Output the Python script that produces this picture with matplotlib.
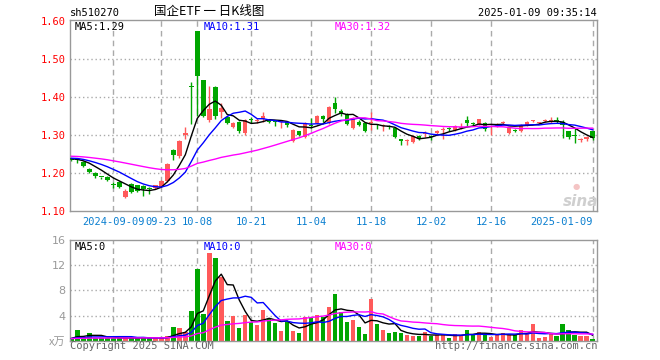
import numpy as np
import pandas as pd
import matplotlib
matplotlib.use('Agg')
import matplotlib.pyplot as plt

# ---- data (510270 daily candles, 2024-08-29 .. 2025-01-09) ----
holidays = ['2024-09-16', '2024-09-17', '2024-10-01', '2024-10-02', '2024-10-03',
            '2024-10-04', '2024-10-07', '2025-01-01']
dates = pd.bdate_range('2024-08-29', '2025-01-09')
dates = dates[~dates.isin(pd.to_datetime(holidays))]

open_ = [1.239, 1.236, 1.230, 1.212, 1.202, 1.190, 1.191, 1.170, 1.178, 1.138,
         1.172, 1.168, 1.167, 1.159, 1.161, 1.165, 1.181, 1.261, 1.245, 1.301,
         1.430, 1.574, 1.445, 1.340, 1.428, 1.362, 1.349, 1.321, 1.336, 1.305,
         1.341, 1.338, 1.342, 1.342, 1.335, 1.334, 1.336, 1.286, 1.310, 1.296,
         1.326, 1.332, 1.351, 1.332, 1.386, 1.365, 1.356, 1.318, 1.336, 1.332,
         1.332, 1.328, 1.325, 1.323, 1.318, 1.289, 1.284, 1.283, 1.299, 1.304,
         1.297, 1.305, 1.315, 1.317, 1.314, 1.318, 1.340, 1.331, 1.330, 1.332,
         1.322, 1.325, 1.333, 1.305, 1.313, 1.310, 1.327, 1.337, 1.332, 1.337,
         1.337, 1.339, 1.336, 1.310, 1.299, 1.288, 1.290, 1.310]
close = [1.235, 1.235, 1.220, 1.204, 1.193, 1.189, 1.183, 1.169, 1.165, 1.154,
         1.150, 1.153, 1.158, 1.158, 1.168, 1.180, 1.224, 1.248, 1.285, 1.307,
         1.428, 1.455, 1.350, 1.368, 1.350, 1.372, 1.333, 1.333, 1.310, 1.340,
         1.340, 1.340, 1.351, 1.335, 1.334, 1.335, 1.327, 1.314, 1.301, 1.332,
         1.325, 1.351, 1.342, 1.374, 1.369, 1.358, 1.329, 1.345, 1.327, 1.310,
         1.334, 1.327, 1.326, 1.322, 1.296, 1.285, 1.285, 1.299, 1.289, 1.305,
         1.296, 1.312, 1.316, 1.316, 1.324, 1.319, 1.333, 1.330, 1.342, 1.316,
         1.323, 1.330, 1.334, 1.321, 1.312, 1.327, 1.336, 1.338, 1.333, 1.338,
         1.338, 1.338, 1.327, 1.295, 1.298, 1.289, 1.296, 1.292]
high = [1.241, 1.240, 1.232, 1.213, 1.203, 1.191, 1.193, 1.178, 1.180, 1.158,
        1.174, 1.170, 1.169, 1.163, 1.170, 1.182, 1.226, 1.263, 1.288, 1.322,
        1.440, 1.575, 1.446, 1.430, 1.430, 1.385, 1.351, 1.336, 1.338, 1.342,
        1.348, 1.345, 1.362, 1.344, 1.340, 1.340, 1.338, 1.316, 1.311, 1.334,
        1.345, 1.353, 1.353, 1.376, 1.400, 1.368, 1.358, 1.347, 1.340, 1.334,
        1.362, 1.331, 1.330, 1.326, 1.320, 1.291, 1.290, 1.301, 1.301, 1.311,
        1.300, 1.314, 1.323, 1.322, 1.326, 1.333, 1.350, 1.334, 1.344, 1.336,
        1.328, 1.332, 1.338, 1.323, 1.316, 1.329, 1.338, 1.340, 1.336, 1.342,
        1.348, 1.348, 1.340, 1.312, 1.318, 1.292, 1.298, 1.312]
low = [1.233, 1.226, 1.216, 1.202, 1.187, 1.186, 1.181, 1.161, 1.160, 1.134,
       1.148, 1.150, 1.140, 1.145, 1.159, 1.163, 1.178, 1.235, 1.240, 1.290,
       1.330, 1.350, 1.348, 1.335, 1.342, 1.345, 1.330, 1.318, 1.305, 1.300,
       1.332, 1.333, 1.335, 1.332, 1.325, 1.318, 1.322, 1.283, 1.298, 1.294,
       1.318, 1.330, 1.336, 1.330, 1.358, 1.350, 1.327, 1.316, 1.325, 1.308,
       1.314, 1.316, 1.312, 1.317, 1.294, 1.274, 1.274, 1.279, 1.287, 1.295,
       1.287, 1.303, 1.290, 1.312, 1.312, 1.316, 1.325, 1.325, 1.328, 1.312,
       1.302, 1.323, 1.330, 1.303, 1.308, 1.308, 1.325, 1.335, 1.330, 1.335,
       1.333, 1.333, 1.293, 1.290, 1.279, 1.282, 1.285, 1.288]
# volume in 万 lots
volume = [0.48, 1.70, 0.48, 1.22, 0.37, 0.45, 0.48, 0.45, 0.48, 0.35,
          0.42, 0.48, 0.62, 0.40, 0.35, 0.35, 0.80, 2.15, 1.97, 1.40,
          4.70, 11.40, 4.25, 13.95, 13.15, 10.10, 3.10, 3.95, 2.05, 4.05,
          2.90, 2.50, 4.90, 3.45, 2.80, 1.55, 3.00, 1.55, 1.22, 3.75,
          3.70, 4.10, 3.80, 5.40, 7.40, 4.56, 3.00, 3.30, 2.20, 1.06,
          6.60, 2.65, 1.70, 1.22, 1.38, 1.22, 0.90, 0.75, 0.75, 1.38,
          0.75, 0.90, 0.90, 0.43, 1.06, 0.90, 1.70, 0.90, 1.38, 1.06,
          0.60, 0.90, 1.22, 0.90, 0.90, 1.70, 1.06, 2.65, 0.43, 0.60,
          1.06, 0.75, 2.65, 1.70, 0.90, 0.75, 0.75, 0.27]
# closes / volumes before the window, estimated from where the MA lines start
pre_close = [1.252, 1.255, 1.250, 1.248, 1.246, 1.251, 1.254, 1.249, 1.245, 1.243,
             1.247, 1.250, 1.248, 1.244, 1.242, 1.246, 1.249, 1.247, 1.243, 1.240,
             1.242, 1.245, 1.241, 1.238, 1.240, 1.243, 1.239, 1.236, 1.238]
pre_volume = [0.35, 0.30, 0.40, 0.32, 0.28, 0.36, 0.30, 0.34, 0.29, 0.31,
              0.38, 0.33, 0.30, 0.27, 0.35, 0.32, 0.30, 0.36, 0.29, 0.33,
              0.31, 0.28, 0.34, 0.30, 0.36, 0.32, 0.29, 0.40, 0.35]

tick_dates = ['2024-09-09', '2024-09-23', '2024-10-08', '2024-10-21', '2024-11-04',
              '2024-11-18', '2024-12-02', '2024-12-16', '2025-01-09']
tick_labels = ['2024-09-09', '09-23', '10-08', '10-21', '11-04',
               '11-18', '12-02', '12-16', '2025-01-09']
price_ticks = [1.10, 1.20, 1.30, 1.40, 1.50, 1.60]
vol_ticks = [0, 4, 8, 12, 16]

RED = '#ff5a5a'
GREEN = '#00a600'
MA_COLORS = {5: 'black', 10: '#0000ff', 30: '#ff00ff'}
MONO = 'DejaVu Sans Mono'
CJK = ['Noto Sans CJK SC', 'DejaVu Sans']

o = np.array(open_); c = np.array(close); h = np.array(high); l = np.array(low)
v = np.array(volume)
n = len(c)
assert len(dates) == n
x = np.arange(n)
colors = np.where(c >= o, RED, GREEN)

all_close = pd.Series(pre_close + close)
all_vol = pd.Series(pre_volume + volume)
k = len(pre_close)

W, H = 660, 360
fig = plt.figure(figsize=(6.6, 3.6), dpi=100)
fig.patch.set_facecolor('white')

def px(x0, y0):
    return x0 / W, 1 - y0 / H

def panel(top, bottom):
    l0, b0 = px(70, bottom)
    return fig.add_axes([l0, b0, (597 - 70) / W, (bottom - top) / H])

ax = panel(20, 211.3)
ax2 = panel(240, 340.7)

tick_idx = [int(np.where(dates == pd.Timestamp(d))[0][0]) for d in tick_dates]

for a in (ax, ax2):
    a.set_xlim(-0.25, 87.72)
    for s in a.spines.values():
        s.set_color('#999999')
        s.set_linewidth(1)
    a.tick_params(length=0)
    a.set_xticks(tick_idx)
    for t in tick_idx:
        a.axvline(t, color='#aaaaaa', lw=1, ls=(0, (4, 3)), zorder=0)

# ---- price panel ----
ax.vlines(x, l, h, colors=colors, lw=1, zorder=2)
body = np.maximum(np.abs(c - o), 0.0028)
ax.bar(x, body, bottom=np.minimum(o, c), width=0.75, color=colors, linewidth=0, zorder=3)
for w, col in MA_COLORS.items():
    ma = all_close.rolling(w, min_periods=1).mean().values[k:]
    ax.plot(x, ma, color=col, lw=1, zorder=4)
ax.set_ylim(1.10, 1.6034)
ax.set_yticks(price_ticks)
ax.set_yticklabels(['%.2f' % p for p in price_ticks], color='red', fontsize=7.5, family=MONO)
for p in price_ticks[1:-1]:
    ax.axhline(p, color='#aaaaaa', lw=1, ls=(0, (1, 2)), zorder=0)
ax.set_xticklabels(tick_labels, color='#0a7fd0', fontsize=7.5, family=MONO)
ax.tick_params(axis='y', pad=3)
ax.tick_params(axis='x', pad=4)
ax.get_xticklabels()[-1].set_ha('right')

# ---- volume panel ----
ax2.bar(x, v, width=0.75, color=colors, linewidth=0, zorder=2)
for w, col in MA_COLORS.items():
    ma = all_vol.rolling(w, min_periods=1).mean().values[k:]
    ax2.plot(x, ma, color=col, lw=1, zorder=3)
ax2.set_ylim(0, 16)
ax2.set_yticks(vol_ticks)
ax2.set_yticklabels(['x万'] + [str(t) for t in vol_ticks[1:]], color='#999999', fontsize=8)
ax2.get_yticklabels()[0].set_fontfamily(CJK)
ax2.get_yticklabels()[0].set_fontstyle('italic')
for t in vol_ticks[1:-1]:
    ax2.axhline(t, color='#aaaaaa', lw=1, ls=(0, (1, 2)), zorder=0)
ax2.set_xticklabels([])
ax2.tick_params(axis='y', pad=3)

# ---- texts ----
def put(x0, y0, s, **kw):
    kw.setdefault('family', MONO)
    kw.setdefault('fontsize', 7.5)
    kw.setdefault('va', 'center')
    fig.text(*px(x0, y0), s, **kw)

put(70, 13, 'sh510270', ha='left')
put(209, 12, '国企ETF 一 日K线图', ha='center', family=CJK, fontsize=9)
put(597, 13, '2025-01-09 09:35:14', ha='right')

ma_last = {w: all_close.rolling(w).mean().iloc[-1] for w in MA_COLORS}
for (w, col), xx in zip(MA_COLORS.items(), [75, 204, 335]):
    put(xx, 27, 'MA%d:%.2f' % (w, ma_last[w]), ha='left', color=col)
    put(xx, 247, 'MA%d:0' % w, ha='left', color=col)

# sina watermark
put(576, 186, '●', ha='center', family='DejaVu Sans', fontsize=6, color='#f4c4c4')
put(581, 201, 'sina', ha='center', family='DejaVu Sans', fontsize=11,
    fontweight='bold', style='italic', color='#cfcfcf')
put(70, 346, 'Copyright 2025 SINA.COM', ha='left', color='#666666')
put(597, 346, 'http://finance.sina.com.cn', ha='right', color='#666666')

fig.savefig('out.png', dpi=100)
